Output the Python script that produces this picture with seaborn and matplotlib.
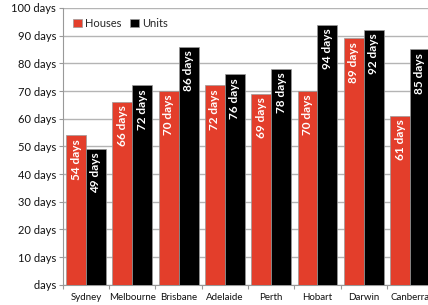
import pandas as pd
import matplotlib
matplotlib.use("Agg")
import matplotlib.pyplot as plt
import seaborn as sns

cities = ["Sydney", "Melbourne", "Brisbane", "Adelaide", "Perth", "Hobart", "Darwin", "Canberra"]
houses = [54, 66, 70, 72, 69, 70, 89, 61]
units = [49, 72, 86, 76, 78, 94, 92, 85]
series = ["Houses", "Units"]
colors = ["#E33E2B", "#000000"]
yticks = list(range(0, 101, 10))

df = pd.DataFrame({
    "city": cities * 2,
    "type": ["Houses"] * len(cities) + ["Units"] * len(cities),
    "days": houses + units,
})

sns.set_style("white")
plt.rcParams["font.family"] = ["Lato", "DejaVu Sans"]

fig = plt.figure(figsize=(4.28, 3.05), dpi=100)
ax = fig.add_axes([0.147, 0.066, 0.865, 0.908])

sns.barplot(data=df, x="city", y="days", hue="type", order=cities, hue_order=series,
            palette=colors, width=0.86, gap=0, saturation=1, ax=ax,
            edgecolor="#9a9a9a", linewidth=0.5, zorder=3)

ax.set_ylim(0, 100)
ax.set_xlim(-0.5, len(cities) - 0.5)
ax.set_yticks(yticks)
ax.set_yticklabels([f"{v} days" if v else " days" for v in yticks], fontsize=8, color="#111111")
ax.tick_params(axis="y", length=3, width=0.8, color="#999999", pad=2, left=True)
ax.tick_params(axis="x", which="major", length=0, labelsize=7, pad=6, labelcolor="#111111")
ax.set_xticks([i - 0.5 for i in range(len(cities) + 1)], minor=True)
ax.tick_params(axis="x", which="minor", length=3, width=0.8, color="#999999", bottom=True)
ax.grid(axis="y", color="#b4b4b4", linewidth=1.0, zorder=0)
ax.set_axisbelow(True)
for side in ["top", "right"]:
    ax.spines[side].set_visible(False)
for side in ["left", "bottom"]:
    ax.spines[side].set_color("#999999")
    ax.spines[side].set_linewidth(0.8)
ax.set_xlabel("")
ax.set_ylabel("")

for cont in ax.containers:
    for bar in cont:
        h = bar.get_height()
        ax.annotate(f"{h:.0f} days", (bar.get_x() + bar.get_width() / 2, h),
                    xytext=(0, -2.5), textcoords="offset points", rotation=90,
                    ha="center", va="top", color="white", fontsize=8.5,
                    fontweight="bold", zorder=4)

ax.legend(loc="upper left", bbox_to_anchor=(0.0, 1.0), frameon=False, fontsize=8,
          handlelength=0.8, handleheight=0.8, handletextpad=0.3, columnspacing=0.8,
          ncol=2, borderaxespad=0.5)

fig.savefig("out.png", dpi=100)
